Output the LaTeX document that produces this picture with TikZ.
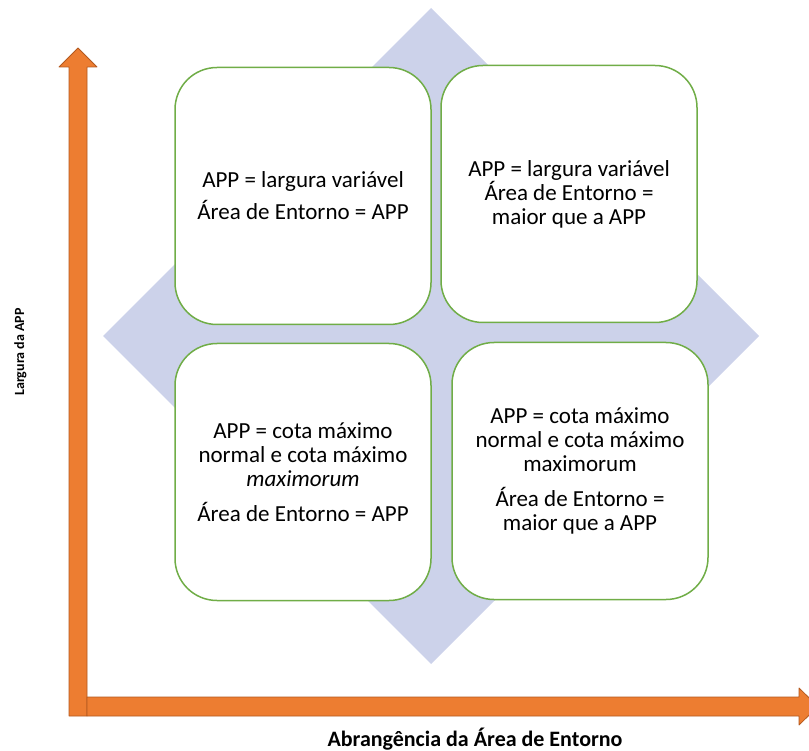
\documentclass[tikz,border=0pt]{standalone}
\usepackage{fontspec}
\setmainfont{Carlito}
\definecolor{axisorange}{HTML}{ED7D31}
\definecolor{axisedge}{HTML}{B3591F}
\definecolor{diamondfill}{RGB}{204,210,234}
\definecolor{quadline}{HTML}{70AD47}
\begin{document}
\begin{tikzpicture}[x=1pt,y=-1pt, line join=round,
    quad/.style={draw=quadline, line width=1.5pt, fill=white, rounded corners=42pt,
      minimum width=256pt, minimum height=257pt, align=center, inner sep=0pt,
      font=\fontsize{23}{24}\selectfont},
    axisarrow/.style={fill=axisorange, draw=axisedge, line width=0.8pt}]
    \useasboundingbox (0,0) rectangle (809,751);
    \clip (0,0) rectangle (809,751);
    % losango de fundo
    \fill[diamondfill] (431,8) -- (759,336) -- (431,664) -- (103,336) -- cycle;
    % quadrantes
    \node[quad] (q11) at (303,196) {APP = largura variável\\[8pt] Área de Entorno = APP};
    \node[quad] (q12) at (569,194) {APP = largura variável\\ Área de Entorno =\\ maior que a APP};
    \node[quad] (q21) at (303,472) {APP = cota máximo\\ normal e cota máximo\\ \textit{maximorum}\\[11pt] Área de Entorno = APP};
    \node[quad] (q22) at (580,471) {APP = cota máximo\\ normal e cota máximo\\ maximorum\\[11pt] Área de Entorno =\\ maior que a APP};
    % eixos
    \draw[axisarrow] (69,716) -- (69,67) -- (59,67) -- (78,48) -- (97,67) -- (87,67) -- (87,716) -- cycle;
    \draw[axisarrow] (87,697) -- (799,697) -- (799,688) -- (818,706.5) -- (799,725) -- (799,716) -- (87,716) -- cycle;
    \node[anchor=base, font=\fontsize{22}{26}\selectfont\bfseries] (xlabel) at (475,746) {Abrangência da Área de Entorno};
    \node[anchor=base, rotate=90, font=\fontsize{14}{16}\selectfont\bfseries] (ylabel) at (24,352) {Largura da APP};
\end{tikzpicture}
\end{document}
